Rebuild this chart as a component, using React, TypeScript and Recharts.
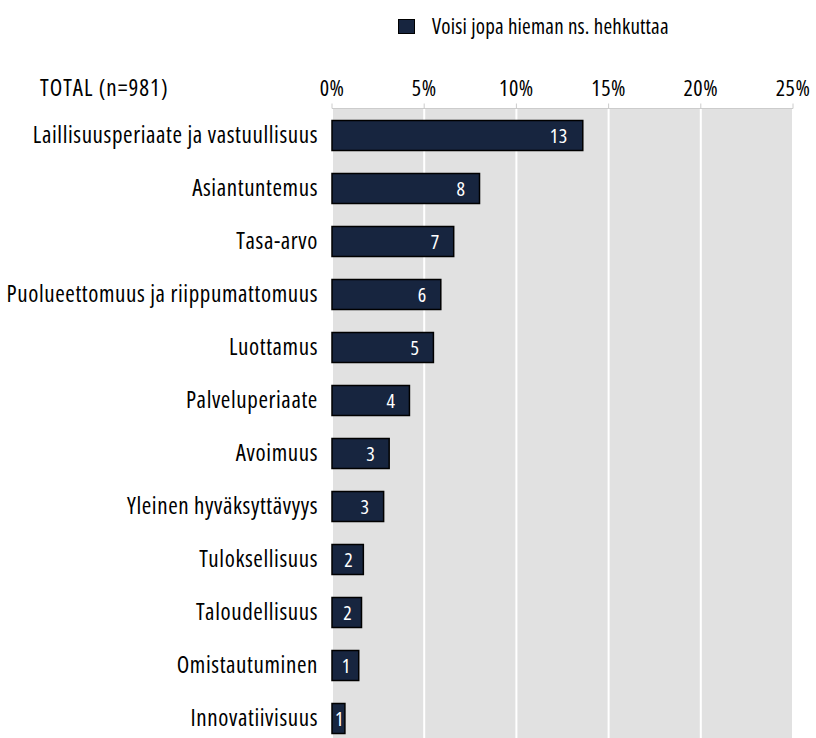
import React from 'react';
import { BarChart, Bar, XAxis, YAxis, CartesianGrid, Legend, LabelList } from 'recharts';

const categories = [
  'Laillisuusperiaate ja vastuullisuus',
  'Asiantuntemus',
  'Tasa-arvo',
  'Puolueettomuus ja riippumattomuus',
  'Luottamus',
  'Palveluperiaate',
  'Avoimuus',
  'Yleinen hyväksyttävyys',
  'Tuloksellisuus',
  'Taloudellisuus',
  'Omistautuminen',
  'Innovatiivisuus',
];
const values = [13.6, 8.0, 6.6, 5.9, 5.5, 4.2, 3.1, 2.8, 1.7, 1.6, 1.45, 0.7];
const valueLabels = ['13', '8', '7', '6', '5', '4', '3', '3', '2', '2', '1', '1'];
const xTicks = [0, 5, 10, 15, 20, 25];
const seriesName = 'Voisi jopa hieman ns. hehkuttaa';
const totalLabel = 'TOTAL (n=981)';

const data = categories.map((name, i) => ({ name, value: values[i], label: valueLabels[i] }));

const FONT = '"Open Sans", sans-serif';
const STRETCH = 'condensed';
const NAVY = '#17253f';

const ValueLabel = (props: any) => {
  const { x, y, width, height, value } = props;
  const tw = String(value).length * 11;
  const cx = Math.max(x + width - 13 - tw / 2, x + width / 2 + 1);
  return (
    <text x={cx} y={y + height / 2} dy={7} textAnchor="middle" fill="#ffffff" fontSize={20} fontFamily={FONT} style={{ fontStretch: STRETCH, letterSpacing: 0.5 }}>
      {value}
    </text>
  );
};

const LegendContent = () => (
  <div style={{ position: 'relative', width: 816, height: 50, fontFamily: FONT, fontStretch: STRETCH }}>
    <div style={{ position: 'absolute', left: 398, top: 19, width: 15, height: 13, background: NAVY, border: '1.5px solid #000' }} />
    <div style={{ position: 'absolute', left: 432, top: 12, fontSize: 21, letterSpacing: 0.2, color: '#000', lineHeight: '28px', whiteSpace: 'nowrap' }}>{seriesName}</div>
  </div>
);

const TotalLabel = () => (
  <text x={40} y={96} textAnchor="start" fill="#000" fontSize={23} fontFamily={FONT} style={{ fontStretch: STRETCH, letterSpacing: 1 }}>
    {totalLabel}
  </text>
);

export default function App() {
  return (
    <div style={{ position: 'fixed', left: 0, top: 0, width: 816, height: 738, overflow: 'hidden', background: '#fff' }}>
      <BarChart
        width={816}
        height={750}
        data={data}
        layout="vertical"
        margin={{ top: 0, right: 23, bottom: 5.5, left: 0 }}
      >
        <CartesianGrid horizontal={false} vertical={true} stroke="#ffffff" strokeWidth={2} fill="#e1e1e1" />
        <Legend verticalAlign="top" align="left" content={<LegendContent />} wrapperStyle={{ left: 0, top: 0, width: 816, height: 50 }} />
        <XAxis
          type="number"
          orientation="top"
          domain={[0, 25]}
          ticks={xTicks}
          tickFormatter={(v: number) => `${v}%`}
          height={58.5}
          axisLine={{ stroke: '#cccccc' }}
          tickLine={{ stroke: '#cccccc' }}
          tickSize={5}
          tickMargin={8}
          tick={{ fill: '#000', fontSize: 22, fontFamily: FONT, style: { fontStretch: STRETCH, letterSpacing: 0.5 } }}
          interval={0}
          label={<TotalLabel />}
        />
        <YAxis
          type="category"
          dataKey="name"
          width={332}
          axisLine={false}
          tickLine={false}
          tickSize={14}
          tickMargin={0}
          interval={0}
          tick={{ fill: '#000', fontSize: 23, fontFamily: FONT, style: { fontStretch: STRETCH, letterSpacing: 0.6 } }}
        />
        <Bar dataKey="value" name={seriesName} fill={NAVY} stroke="#000" strokeWidth={1.5} barSize={30} isAnimationActive={false}>
          <LabelList dataKey="label" content={<ValueLabel />} />
        </Bar>
      </BarChart>
    </div>
  );
}
